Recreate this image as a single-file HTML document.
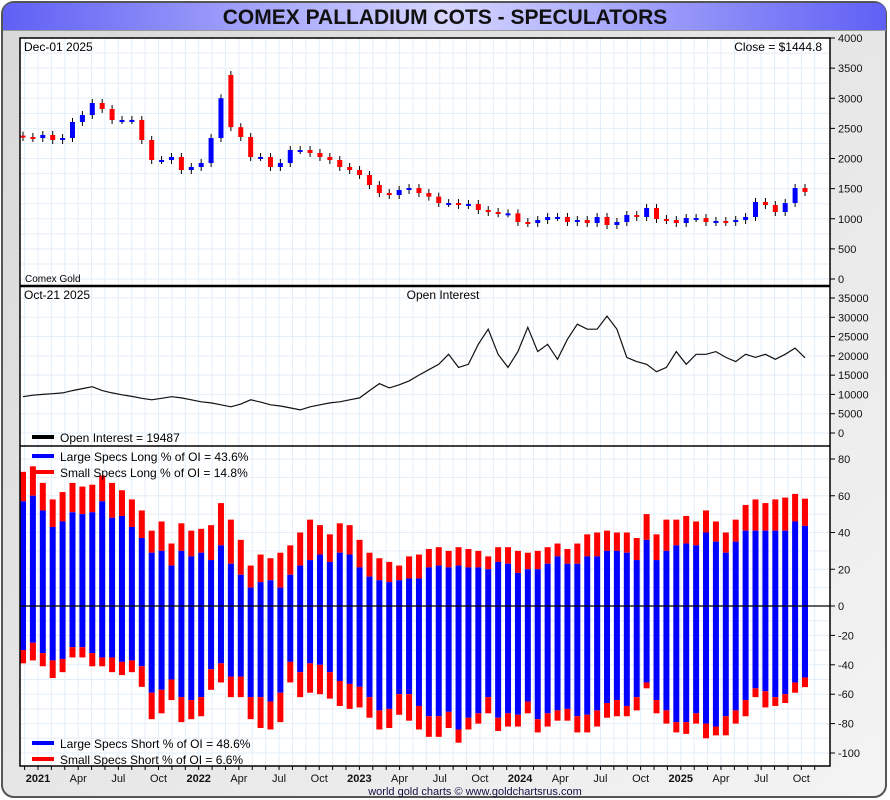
<!DOCTYPE html>
<html><head><meta charset="utf-8"><style>
html,body{margin:0;padding:0;background:#fff}
svg{display:block;font-family:"Liberation Sans",sans-serif}
</style></head><body>
<svg id="c" width="890" height="800" viewBox="0 0 890 800" xmlns="http://www.w3.org/2000/svg">
<defs>
<linearGradient id="tg" x1="0" x2="1" y1="0" y2="0"><stop offset="0" stop-color="#5f5ff5"/><stop offset="0.5" stop-color="#d6d6ff"/><stop offset="1" stop-color="#5f5ff5"/></linearGradient>
<linearGradient id="bg" x1="0" x2="1" y1="0" y2="1"><stop offset="0" stop-color="#d8d8d8"/><stop offset="1" stop-color="#f4f4f4"/></linearGradient>
</defs>
<rect x="0" y="0" width="890" height="800" fill="#fff"/>
<rect x="2" y="2" width="884" height="795" rx="12" fill="url(#bg)" stroke="#555" stroke-width="2"/>
<path d="M3,30 L3,14 Q3,3 14,3 L875,3 Q886,3 886,14 L886,30 Z" fill="url(#tg)"/>
<line x1="3" y1="30.5" x2="886" y2="30.5" stroke="#999"/>
<text x="445" y="24" text-anchor="middle" font-size="21" font-weight="bold" fill="#111">COMEX PALLADIUM COTS - SPECULATORS</text>
<rect x="20" y="38" width="810" height="728" fill="#fff"/>
<g id="grid"></g>
<g id="p3"></g>
<g id="p2"></g>
<g id="p1"></g>
<g id="axes"></g>
<line x1="20" y1="286" x2="830" y2="286" stroke="#000" stroke-width="2.5"/>
<line x1="20" y1="446" x2="830" y2="446" stroke="#000" stroke-width="1.5"/>
<line x1="20" y1="606" x2="830" y2="606" stroke="#000" stroke-width="1.2"/>
<rect x="20" y="38" width="810" height="728" fill="none" stroke="#000" stroke-width="1.5"/>
<text x="24" y="51" font-size="12">Dec-01  2025</text>
<text x="822" y="51" font-size="12" text-anchor="end">Close = $1444.8</text>
<text x="25" y="282" font-size="10">Comex Gold</text>
<text x="24" y="299" font-size="12">Oct-21  2025</text>
<text x="443" y="299" font-size="12" text-anchor="middle">Open Interest</text>
<g><rect x="32" y="435" width="22" height="4" fill="#000"/><text x="60" y="442" font-size="12">Open Interest = 19487</text></g>
<g><rect x="32" y="454" width="22" height="4" fill="#00f"/><text x="60" y="461" font-size="12">Large Specs Long % of OI = 43.6%</text></g>
<g><rect x="32" y="470" width="22" height="4" fill="#f00"/><text x="60" y="477" font-size="12">Small Specs Long % of OI = 14.8%</text></g>
<g><rect x="32" y="741" width="22" height="4" fill="#00f"/><text x="60" y="748" font-size="12">Large Specs Short % of OI = 48.6%</text></g>
<g><rect x="32" y="757" width="22" height="4" fill="#f00"/><text x="60" y="764" font-size="12">Small Specs Short % of OI = 6.6%</text></g>
<text x="475" y="795" font-size="11" text-anchor="middle" fill="#114">world gold charts © www.goldchartsrus.com</text>
</svg>
<script>
const closes=[2357,2340,2390,2307,2340,2606,2722,2921,2822,2639,2639,2640,2307,1975,1975,2025,1809,1859,1925,2340,3000,2520,2357,2025,2025,1859,1925,2141,2141,2091,2025,1975,1859,1809,1726,1560,1427,1394,1477,1510,1427,1367,1261,1261,1228,1245,1145,1112,1090,1090,946,929,979,1029,1029,946,979,929,1029,896,946,1062,1029,1178,996,979,929,1012,1012,946,963,946,979,1029,1278,1228,1112,1261,1510,1445];
const opens=[2380,2357,2340,2390,2307,2340,2606,2722,2921,2822,2639,2639,2640,2307,1975,1975,2025,1809,1859,1925,2340,3386,2520,2357,2025,2025,1859,1925,2141,2141,2091,2025,1975,1859,1809,1726,1560,1427,1394,1477,1510,1427,1367,1261,1261,1228,1245,1145,1112,1090,1090,946,929,979,1029,1029,946,979,929,1029,896,946,1062,1029,1178,996,979,929,1012,1012,946,963,946,979,1029,1278,1228,1112,1261,1510];
const openInterest=[9400,9800,10000,10200,10400,11000,11500,12000,11000,10400,9900,9500,9000,8600,9000,9400,9100,8600,8100,7800,7300,6800,7500,8600,8000,7300,7000,6500,6000,6800,7300,7800,8100,8600,9100,11000,12800,11700,12500,13500,15000,16400,17800,20400,17000,17800,23000,26900,20400,17000,21100,27400,21100,23000,19100,24300,28200,26900,26900,30300,26900,19600,18500,17800,15900,17000,21100,17800,20400,20400,21100,19600,18500,20400,19600,20400,19100,20400,22000,19487];
const largeLong=[57,60,52,43,46,51,50,51,57,48,49,43,37,29,30,22,30,27,29,25,33,23,17,10,13,14,10,17,22,25,28,24,29,28,21,16,14,13,14,15,15,21,22,21,22,21,21,20,24,23,18,20,20,23,27,23,23,27,27,30,30,29,25,36,25,30,33,34,33,40,35,29,35,41,41,41,41,41,46,43.6];
const totalLong=[73,76,67,58,62,67,65,66,71,67,63,58,52,41,46,34,45,41,42,44,56,47,36,22,28,26,29,33,40,47,44,39,45,44,36,29,26,24,22,27,28,31,32,30,32,31,30,27,32,32,30,29,30,32,34,31,34,39,40,41,40,40,37,50,39,47,47,49,46,52,46,40,47,55,58,56,58,59,61,58.4];
const largeShort=[30,25,32,37,36,28,28,32,35,35,38,37,41,59,57,50,62,64,62,43,39,48,48,62,62,65,59,38,45,39,40,45,51,53,55,62,71,70,60,60,68,75,75,72,84,76,73,62,76,73,74,65,77,73,71,70,75,74,71,66,64,68,62,52,64,71,79,79,73,80,82,75,71,64,56,58,62,60,52,48.6];
const totalShort=[39,37,41,49,45,35,35,41,41,45,47,45,55,77,73,64,79,77,75,57,52,62,62,77,83,84,79,52,62,59,60,63,68,70,69,76,84,83,74,78,84,89,89,83,93,84,80,73,85,82,82,73,86,82,78,78,86,86,82,76,75,75,71,56,73,80,86,87,80,90,88,88,80,75,62,69,68,66,59,55.2];
const priceTicks=[0,500,1000,1500,2000,2500,3000,3500,4000];
const oiTicks=[0,5000,10000,15000,20000,25000,30000,35000];
const pctTicks=[80,60,40,20,0,-20,-40,-60,-80,-100];
const monthLabels=["2021","Apr","Jul","Oct","2022","Apr","Jul","Oct","2023","Apr","Jul","Oct","2024","Apr","Jul","Oct","2025","Apr","Jul","Oct"];

const NS="http://www.w3.org/2000/svg";
function mk(tag,attrs,parent){const e=document.createElementNS(NS,tag);for(const k in attrs)e.setAttribute(k,attrs[k]);parent.appendChild(e);return e;}
const N=closes.length;
const L=20,R=830;
const xIdx=i=>23+i*(782/(N-1));
const yPrice=v=>279-v*0.06025;
const yOI=v=>433-v*(135/35000);
const yPct=v=>v>=0?606-v*1.8375:606-v*1.47;
const xMonth=m=>38+(m)*(160.7/12);
const grid=document.getElementById('grid');
for(let m=-1;m<=58;m++){const x=xMonth(m);if(x<=L||x>=R)continue;
 const g=mk('line',{x1:x,y1:38,x2:x,y2:766,stroke:'#e3eef8','stroke-width':1},grid);
 
 }
for(let v=0;v<=4000;v+=250){const y=yPrice(v);if(y<=40)continue;const g=mk('line',{x1:L,y1:y,x2:R,y2:y,stroke:'#e3eef8'},grid);
 
 }
for(let v=0;v<=35000;v+=5000){const y=yOI(v);const g=mk('line',{x1:L,y1:y,x2:R,y2:y,stroke:'#e3eef8'},grid);
 
 }
for(let v=-100;v<=80;v+=10){const y=yPct(v);const g=mk('line',{x1:L,y1:y,x2:R,y2:y,stroke:'#e3eef8'},grid);
 
 }
const p3=document.getElementById('p3');const bw=6;
for(let i=0;i<N;i++){const x=xIdx(i)-bw/2;
 let r=mk('rect',{x:x,y:yPct(totalLong[i]),width:bw,height:yPct(largeLong[i])-yPct(totalLong[i]),fill:'#f00'},p3);
 
 
 r=mk('rect',{x:x,y:yPct(largeLong[i]),width:bw,height:606-yPct(largeLong[i]),fill:'#00f'},p3);
 
 
 r=mk('rect',{x:x,y:606,width:bw,height:yPct(-largeShort[i])-606,fill:'#00f'},p3);
 
 
 r=mk('rect',{x:x,y:yPct(-largeShort[i]),width:bw,height:yPct(-totalShort[i])-yPct(-largeShort[i]),fill:'#f00'},p3);
 
 }
const p2=document.getElementById('p2');
const pl=mk('polyline',{points:openInterest.map((v,i)=>xIdx(i).toFixed(1)+','+yOI(v).toFixed(1)).join(' '),fill:'none',stroke:'#111','stroke-width':1.2},p2);


const p1=document.getElementById('p1');
for(let i=0;i<N;i++){const x=xIdx(i);const o=opens[i],c=closes[i];
 const hi=Math.max(o,c),lo=Math.min(o,c);
 const w=mk('line',{x1:x,y1:yPrice(hi)-4,x2:x,y2:yPrice(lo)+4,stroke:'#000','stroke-width':1},p1);
 
 
 const h=Math.max(2,yPrice(lo)-yPrice(hi));
 const b=mk('rect',{x:x-2.5,y:yPrice(hi),width:5,height:h,fill:c>=o?'#00f':'#f00'},p1);
 
 }
const ax=document.getElementById('axes');
function ylab(y,t){mk('line',{x1:R,y1:y,x2:R+5,y2:y,stroke:'#000'},ax);const e=mk('text',{x:R+8,y:y+4,'font-size':11,fill:'#111'},ax);e.textContent=t;
 
 }
priceTicks.forEach(v=>ylab(yPrice(v),String(v)));
oiTicks.forEach(v=>ylab(yOI(v),String(v)));
pctTicks.forEach(v=>ylab(yPct(v),String(v)));
for(let m=-1;m<=58;m++){const x=xMonth(m);if(x<=L||x>=R)continue;mk('line',{x1:x,y1:766,x2:x,y2:770,stroke:'#000'},ax);}
monthLabels.forEach((t,k)=>{const x=xMonth(k*3);const e=mk('text',{x:x,y:782,'font-size':11,'text-anchor':'middle',fill:'#111','font-weight':(k%4===0)?'bold':'normal'},ax);e.textContent=t;
 
 });
</script>
</body></html>
